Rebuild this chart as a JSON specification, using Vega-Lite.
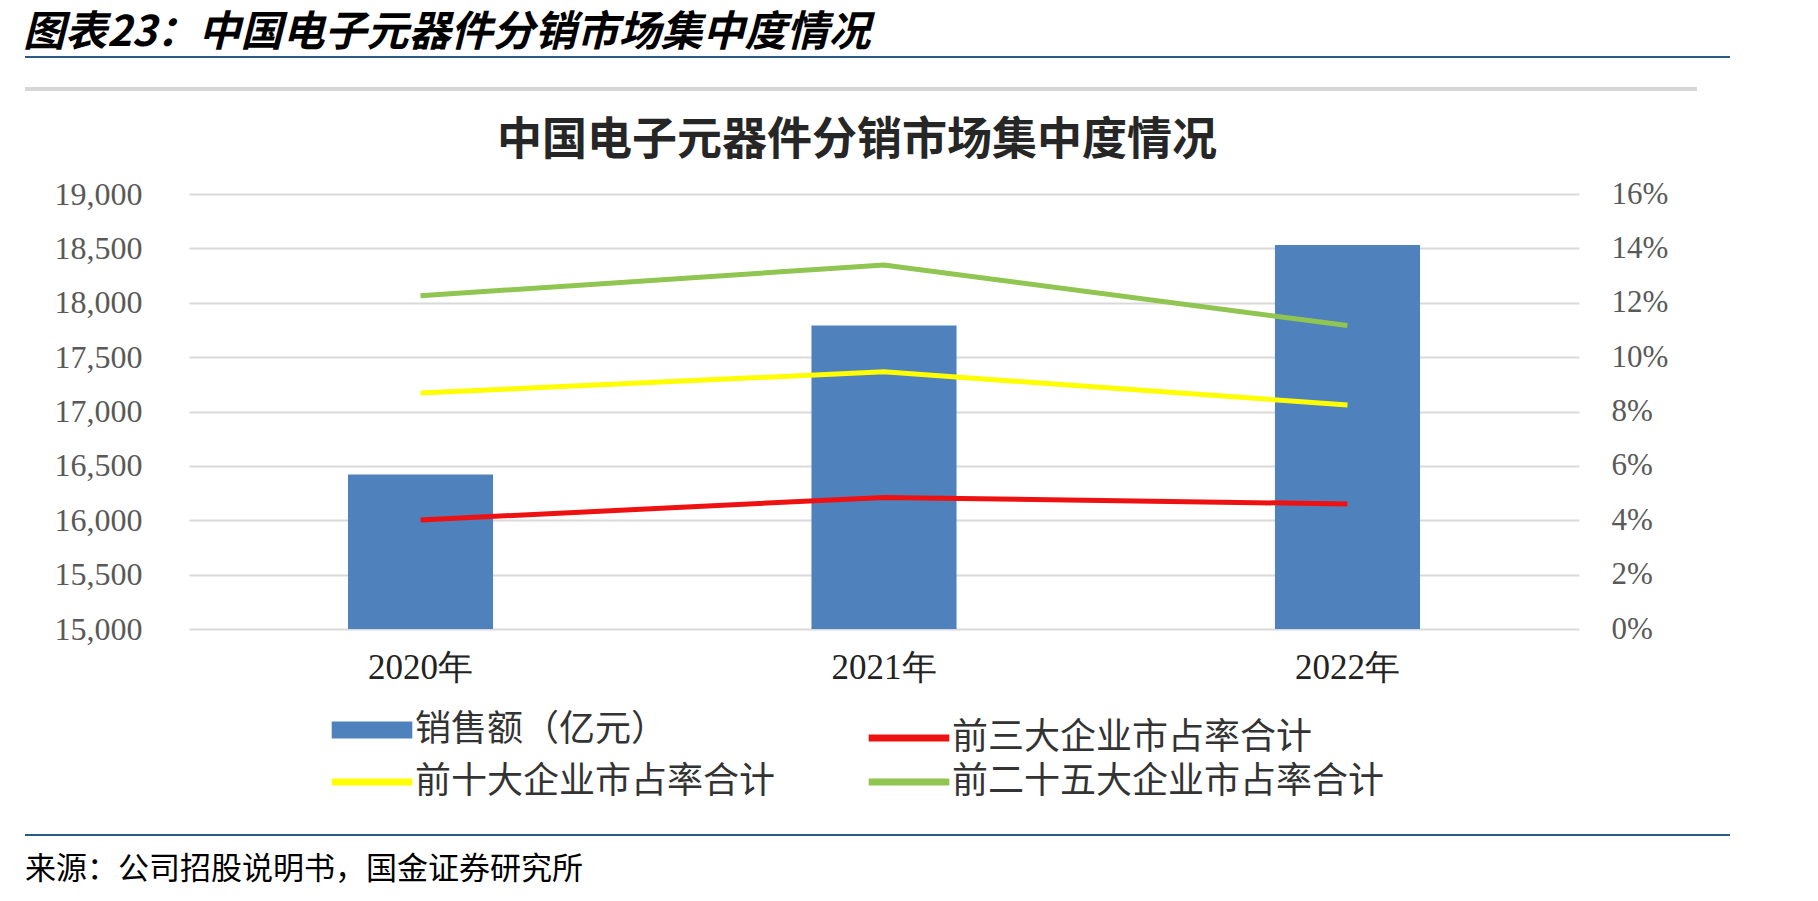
{
  "$schema": "https://vega.github.io/schema/vega-lite/v6.json",
  "padding": {"left": 23, "top": 11, "right": 0, "bottom": 0},
  "background": "white",
  "title": {"text": "图表23：中国电子元器件分销市场集中度情况", "anchor": "start", "frame": "bounds", "font": "Noto Sans CJK SC", "fontSize": 42, "fontStyle": "italic", "fontWeight": "bold", "color": "#000000", "offset": -4},
  "datasets": {
    "sales": [
      {"year": "2020年", "series": "销售额（亿元）", "sales": 16420},
      {"year": "2021年", "series": "销售额（亿元）", "sales": 17790},
      {"year": "2022年", "series": "销售额（亿元）", "sales": 18530}
    ],
    "share": [
      {"year": "2020年", "series": "前三大企业市占率合计", "share": 0.0401},
      {"year": "2021年", "series": "前三大企业市占率合计", "share": 0.0484},
      {"year": "2022年", "series": "前三大企业市占率合计", "share": 0.046},
      {"year": "2020年", "series": "前十大企业市占率合计", "share": 0.0868},
      {"year": "2021年", "series": "前十大企业市占率合计", "share": 0.0946},
      {"year": "2022年", "series": "前十大企业市占率合计", "share": 0.0824},
      {"year": "2020年", "series": "前二十五大企业市占率合计", "share": 0.1226},
      {"year": "2021年", "series": "前二十五大企业市占率合计", "share": 0.1339},
      {"year": "2022年", "series": "前二十五大企业市占率合计", "share": 0.1116}
    ],
    "blank": [{"t": ""}]
  },
  "config": {"view": {"stroke": null}},
  "spacing": 22,
  "vconcat": [
    {
      "spacing": 17,
      "vconcat": [
        {"width": 1705, "height": 1, "view": {"stroke": "#2B5B84", "strokeWidth": 2, "strokeDash": [1705, 10000]}, "data": {"name": "blank"}, "mark": "text", "encoding": {"text": {"field": "t"}}},
        {"width": 1672, "height": 1, "view": {"stroke": "#D6D6D6", "strokeWidth": 4, "strokeDash": [1672, 10000]}, "data": {"name": "blank"}, "mark": "text", "encoding": {"text": {"field": "t"}}}
      ]
    },
    {
      "spacing": 143,
      "vconcat": [
        {
          "spacing": 28,
          "hconcat": [
            {"width": 1, "height": 1, "data": {"name": "blank"}, "mark": "text", "encoding": {"text": {"field": "t"}}},
            {
              "width": 1390,
              "height": 435,
              "title": {"text": "中国电子元器件分销市场集中度情况", "font": "Noto Sans CJK SC", "fontSize": 45, "fontWeight": "bold", "color": "#262626", "anchor": "middle", "dx": -27, "offset": 14},
              "layer": [
                {
                  "data": {"name": "sales"},
                  "mark": {"type": "bar"},
                  "encoding": {
                    "x": {"field": "year", "type": "nominal", "sort": null, "scale": {"paddingInner": 0.687, "paddingOuter": 0.343},
                      "axis": {"title": null, "labelAngle": 0, "labelFont": "Liberation Serif", "labelFontSize": 35, "labelColor": "#222222", "ticks": false, "domain": false, "labelPadding": 21, "grid": false}},
                    "y": {"field": "sales", "type": "quantitative", "scale": {"domain": [15000, 19000], "nice": false, "zero": false},
                      "axis": {"title": null, "values": [15000, 15500, 16000, 16500, 17000, 17500, 18000, 18500, 19000], "format": ",.0f", "labelFont": "Liberation Serif", "labelFontSize": 32, "labelColor": "#595959", "ticks": false, "domain": false, "grid": true, "gridColor": "#D9D9D9", "gridWidth": 2, "labelPadding": 47}},
                    "y2": {"datum": 15000},
                    "color": {"field": "series", "type": "nominal",
                      "scale": {"domain": ["销售额（亿元）", "前三大企业市占率合计", "前十大企业市占率合计", "前二十五大企业市占率合计"], "range": ["#4F81BD", "#EE1111", "#FFFF00", "#8FC550"]},
                      "legend": {"orient": "none", "legendX": 329, "legendY": 655, "direction": "horizontal", "columns": 2, "columnPadding": 78, "rowPadding": -40, "title": null,
                        "symbolType": "stroke", "symbolSize": 6500, "symbolStrokeWidth": 7,
                        "labelFont": "Noto Sans CJK SC", "labelFontSize": 36, "labelColor": "#333333", "labelLimit": 800, "labelOffset": 25,
                        "encode": {"symbols": {"update": {"strokeWidth": {"signal": "datum.value === '销售额（亿元）' ? 17 : 7"}, "stroke": {"scale": "color", "field": "value"}}}}}}
                  }
                },
                {
                  "data": {"name": "share"},
                  "mark": {"type": "line", "strokeWidth": 5},
                  "encoding": {
                    "x": {"field": "year", "type": "nominal", "sort": null},
                    "y": {"field": "share", "type": "quantitative", "scale": {"domain": [0, 0.16], "nice": false},
                      "axis": {"orient": "right", "title": null, "values": [0, 0.02, 0.04, 0.06, 0.08, 0.1, 0.12, 0.14, 0.16], "format": ".0%", "labelFont": "Liberation Serif", "labelFontSize": 31, "labelColor": "#595959", "ticks": false, "domain": false, "grid": false, "labelPadding": 32}},
                    "color": {"field": "series", "type": "nominal",
                      "legend": {"orient": "none", "legendX": 329, "legendY": 655, "direction": "horizontal", "columns": 2, "columnPadding": 78, "rowPadding": -40, "title": null,
                        "symbolType": "stroke", "symbolSize": 6500, "symbolStrokeWidth": 7,
                        "labelFont": "Noto Sans CJK SC", "labelFontSize": 36, "labelColor": "#333333", "labelLimit": 800, "labelOffset": 25,
                        "encode": {"symbols": {"update": {"strokeWidth": {"signal": "datum.value === '销售额（亿元）' ? 17 : 7"}, "stroke": {"scale": "color", "field": "value"}}}}}}
                  }
                }
              ],
              "resolve": {"scale": {"y": "independent"}}
            }
          ]
        },
        {"width": 1705, "height": 1, "view": {"stroke": "#2B5B84", "strokeWidth": 2, "strokeDash": [1705, 10000]}, "data": {"name": "blank"}, "mark": "text", "encoding": {"text": {"field": "t"}},
          "title": {"text": "来源：公司招股说明书，国金证券研究所", "orient": "bottom", "anchor": "start", "font": "Noto Sans CJK SC", "fontSize": 31, "fontWeight": "normal", "color": "#000000", "offset": 14}}
      ]
    }
  ]
}
